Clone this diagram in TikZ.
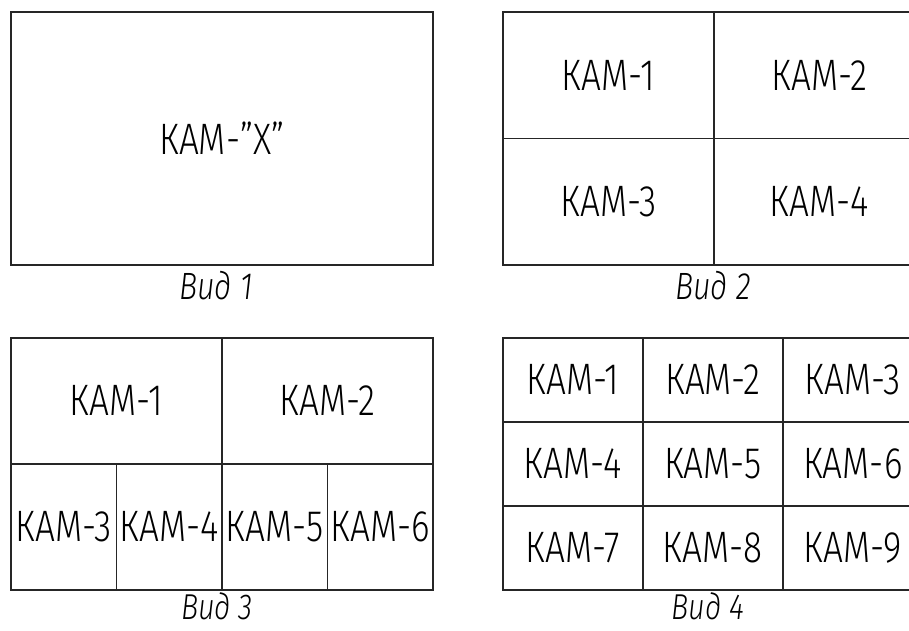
\documentclass[tikz,border=0pt]{standalone}
\usepackage{fontspec}
\setmainfont{Fira Sans Light}[ItalicFont={Fira Sans Light Italic}, FakeStretch=0.8]
\begin{document}
\begin{tikzpicture}[x=1pt, y=-1pt,
  cell/.style={draw=black!85, line width=1.7pt, inner sep=0pt, anchor=north west,
    font=\fontsize{44}{44}\selectfont},
  caption/.style={inner sep=0pt, font=\fontsize{38}{38}\selectfont\itshape}]
\useasboundingbox (0,0) rectangle (909,630);
\clip (0,0) rectangle (909,630);

% layout 1: a single camera
\node[cell, minimum width=422pt, minimum height=253pt] (v1) at (10,11) {КАМ-"X"};
\node[caption] (c1) at (216,286) {Вид 1};

% layout 2: 2 x 2
\foreach \r/\c/\t in {0/0/1, 0/1/2, 1/0/3, 1/1/4}
  \node[cell, minimum width=211pt, minimum height=126.5pt] (v2c\t)
    at ({502+211*\c}, {11+126.5*\r}) {КАМ-\t};
\node[caption] (c2) at (713,286) {Вид 2};

% layout 3: two large on top, four small below
\node[cell, minimum width=211pt, minimum height=126pt] (v3c1) at (10,337) {КАМ-1};
\node[cell, minimum width=211pt, minimum height=126pt] (v3c2) at (221,337) {КАМ-2};
\foreach \c/\t in {0/3, 1/4, 2/5, 3/6}
  \node[cell, minimum width=105.5pt, minimum height=126pt] (v3c\t)
    at ({10+105.5*\c}, 463) {КАМ-\t};
\node[caption, font=\fontsize{36}{36}\selectfont\itshape] (c3) at (217,606.5) {Вид 3};

% layout 4: 3 x 3
\foreach \r in {0,1,2}
  \foreach \c in {0,1,2} {
    \pgfmathtruncatemacro{\t}{3*\r+\c+1}
    \node[cell, minimum width=140pt, minimum height=84pt] (v4c\t)
      at ({502+140*\c}, {337+84*\r}) {КАМ-\t};
  }
\node[caption, font=\fontsize{36}{36}\selectfont\itshape] (c4) at (708,606.5) {Вид 4};
\end{tikzpicture}
\end{document}
